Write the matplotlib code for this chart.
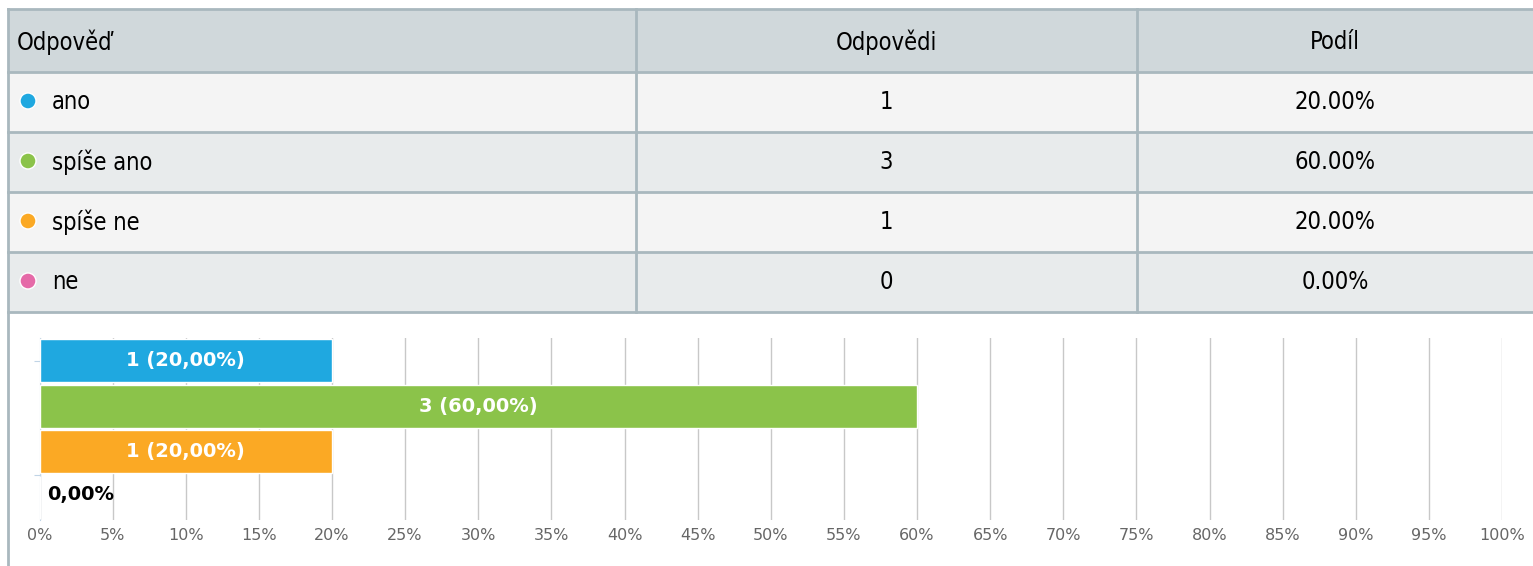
import matplotlib.pyplot as plt
from matplotlib.patches import Rectangle, Circle
from matplotlib import font_manager

# data
answers = ['ano', 'spíše ano', 'spíše ne', 'ne']
counts = [1, 3, 1, 0]
shares = [20.0, 60.0, 20.0, 0.0]
colors = ['#1fa8e0', '#8bc34a', '#fba924', '#e56aa8']
headers = ['Odpověď', 'Odpovědi', 'Podíl']
ticks = list(range(0, 101, 5))

W, H = 1533, 566
fig = plt.figure(figsize=(W / 100, H / 100), dpi=100)

# look for a narrow font for the table, like the original page uses
tprop = None
for f in font_manager.fontManager.ttflist:
    n = f.name.lower()
    if ('narrow' in n or 'condensed' in n or f.stretch in ('condensed', 'semi-condensed')) \
            and f.weight in ('normal', 400, 'regular', 'book') and f.style == 'normal':
        tprop = font_manager.FontProperties(fname=f.fname)
        break
if tprop is None:
    tprop = font_manager.FontProperties(family='DejaVu Sans')
    fs = 15
else:
    fs = 17
tprop.set_size(fs)

# table drawn in pixel coordinates
tab = fig.add_axes([0, 0, 1, 1])
tab.set_xlim(0, W)
tab.set_ylim(H, 0)
tab.axis('off')

border = '#a9b8be'
cols = [8, 636, 1137, W + 2]
rows_y = [9, 72, 132, 192, 252, 312]
bgs = ['#d0d8db', '#f4f4f4', '#e8ebec', '#f4f4f4', '#e8ebec']
for r in range(5):
    tab.add_patch(Rectangle((cols[0], rows_y[r]), cols[-1] - cols[0], rows_y[r + 1] - rows_y[r],
                            facecolor=bgs[r], edgecolor='none'))
for y in rows_y:
    tab.plot([cols[0], W], [y, y], color=border, lw=2)
tab.plot([cols[0], cols[0]], [rows_y[0], H], color=border, lw=2)
for x in cols[1:3]:
    tab.plot([x, x], [rows_y[0], rows_y[-1]], color=border, lw=2)

tab.text(17, 42, headers[0], fontproperties=tprop, va='center', ha='left')
tab.text((cols[1] + cols[2]) / 2, 42, headers[1], fontproperties=tprop, va='center', ha='center')
tab.text((cols[2] + W) / 2, 42, headers[2], fontproperties=tprop, va='center', ha='center')
for i, (a, c, s, col) in enumerate(zip(answers, counts, shares, colors)):
    yc = (rows_y[i + 1] + rows_y[i + 2]) / 2
    tab.add_patch(Circle((28, yc - 1), 8, facecolor=col, edgecolor='white', lw=1))
    tab.text(52, yc, a, fontproperties=tprop, va='center', ha='left')
    tab.text((cols[1] + cols[2]) / 2, yc, str(c), fontproperties=tprop, va='center', ha='center')
    tab.text((cols[2] + W) / 2, yc, f'{s:.2f}%', fontproperties=tprop, va='center', ha='center')

# bar chart
x0, x1 = 39.5, 1502
y_top, y_bot = 338, 520
ax = fig.add_axes([x0 / W, 1 - y_bot / H, (x1 - x0) / W, (y_bot - y_top) / H])
ax.patch.set_alpha(0)
pos = list(range(len(answers)))
ax.barh(pos, shares, height=0.94, color=colors, edgecolor='white', linewidth=1, zorder=3)
ax.set_xlim(0, 100)
ax.set_ylim(len(answers) - 0.5, -0.5)
ax.set_xticks(ticks)
ax.set_xticklabels([f'{t}%' for t in ticks])
ax.tick_params(axis='x', length=0, colors='#666666', labelsize=11.5, pad=6)
ax.set_yticks([0, 2.5])
ax.set_yticklabels([])
ax.tick_params(axis='y', length=4, color='#c0d4e6')
ax.grid(axis='x', color='#c8c8c8', lw=1, zorder=0)
for sp in ['top', 'right', 'bottom']:
    ax.spines[sp].set_visible(False)
ax.spines['left'].set_color('#c0d4e6')

for p, c, s in zip(pos, counts, shares):
    lab = f'{s:.2f}%'.replace('.', ',')
    if s > 0:
        ax.text(s / 2, p, f'{c} ({lab})', ha='center', va='center', color='white',
                fontsize=14, fontweight='bold', zorder=4)
    else:
        ax.text(0.5, p - 0.05, lab, ha='left', va='center', color='black',
                fontsize=14, fontweight='bold', zorder=4)

fig.savefig('out.png', dpi=100)
